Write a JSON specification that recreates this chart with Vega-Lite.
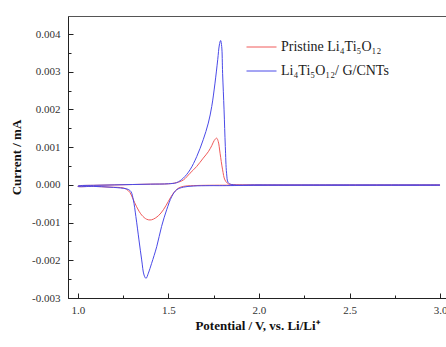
{
  "$schema": "https://vega.github.io/schema/vega-lite/v6.json",
  "width": 378,
  "height": 282,
  "autosize": {"type": "none"},
  "padding": {"left": 68, "top": 16, "right": 0, "bottom": 49},
  "background": "white",
  "config": {
    "view": {"stroke": "#555", "strokeWidth": 1},
    "font": "Liberation Serif",
    "axis": {"grid": false, "domainColor": "#222", "tickColor": "#222", "labelColor": "#333", "labelFont": "Liberation Serif", "labelFontSize": 11, "titleFont": "Liberation Serif", "titleFontSize": 13, "titleFontWeight": "bold", "titleColor": "#111"}
  },
  "data": {"values": [
    {"s": "Pristine Li₄Ti₅O₁₂", "o": 1, "v": 3.0, "i": -0.00001},
    {"s": "Pristine Li₄Ti₅O₁₂", "o": 2, "v": 2.0, "i": -0.00001},
    {"s": "Pristine Li₄Ti₅O₁₂", "o": 3, "v": 1.729, "i": -0.00001},
    {"s": "Pristine Li₄Ti₅O₁₂", "o": 4, "v": 1.637, "i": -0.00002},
    {"s": "Pristine Li₄Ti₅O₁₂", "o": 5, "v": 1.582, "i": -0.00004},
    {"s": "Pristine Li₄Ti₅O₁₂", "o": 6, "v": 1.554, "i": -0.00009},
    {"s": "Pristine Li₄Ti₅O₁₂", "o": 7, "v": 1.527, "i": -0.00022},
    {"s": "Pristine Li₄Ti₅O₁₂", "o": 8, "v": 1.499, "i": -0.00044},
    {"s": "Pristine Li₄Ti₅O₁₂", "o": 9, "v": 1.472, "i": -0.00066},
    {"s": "Pristine Li₄Ti₅O₁₂", "o": 10, "v": 1.444, "i": -0.00082},
    {"s": "Pristine Li₄Ti₅O₁₂", "o": 11, "v": 1.416, "i": -0.00091},
    {"s": "Pristine Li₄Ti₅O₁₂", "o": 12, "v": 1.398, "i": -0.00093},
    {"s": "Pristine Li₄Ti₅O₁₂", "o": 13, "v": 1.379, "i": -0.00091},
    {"s": "Pristine Li₄Ti₅O₁₂", "o": 14, "v": 1.352, "i": -0.0008},
    {"s": "Pristine Li₄Ti₅O₁₂", "o": 15, "v": 1.324, "i": -0.00058},
    {"s": "Pristine Li₄Ti₅O₁₂", "o": 16, "v": 1.302, "i": -0.00035},
    {"s": "Pristine Li₄Ti₅O₁₂", "o": 17, "v": 1.287, "i": -0.0002},
    {"s": "Pristine Li₄Ti₅O₁₂", "o": 18, "v": 1.269, "i": -0.00012},
    {"s": "Pristine Li₄Ti₅O₁₂", "o": 19, "v": 1.25, "i": -0.00008},
    {"s": "Pristine Li₄Ti₅O₁₂", "o": 20, "v": 1.177, "i": -0.00006},
    {"s": "Pristine Li₄Ti₅O₁₂", "o": 21, "v": 1.085, "i": -0.00004},
    {"s": "Pristine Li₄Ti₅O₁₂", "o": 22, "v": 1.0, "i": -0.00004},
    {"s": "Pristine Li₄Ti₅O₁₂", "o": 23, "v": 1.0, "i": -0.00003},
    {"s": "Pristine Li₄Ti₅O₁₂", "o": 24, "v": 1.1, "i": -0.00001},
    {"s": "Pristine Li₄Ti₅O₁₂", "o": 25, "v": 1.2, "i": 0.0},
    {"s": "Pristine Li₄Ti₅O₁₂", "o": 26, "v": 1.3, "i": 0.00001},
    {"s": "Pristine Li₄Ti₅O₁₂", "o": 27, "v": 1.4, "i": 0.00002},
    {"s": "Pristine Li₄Ti₅O₁₂", "o": 28, "v": 1.5, "i": 0.00003},
    {"s": "Pristine Li₄Ti₅O₁₂", "o": 29, "v": 1.545, "i": 0.00006},
    {"s": "Pristine Li₄Ti₅O₁₂", "o": 30, "v": 1.582, "i": 0.00013},
    {"s": "Pristine Li₄Ti₅O₁₂", "o": 31, "v": 1.619, "i": 0.00031},
    {"s": "Pristine Li₄Ti₅O₁₂", "o": 32, "v": 1.656, "i": 0.00049},
    {"s": "Pristine Li₄Ti₅O₁₂", "o": 33, "v": 1.692, "i": 0.00071},
    {"s": "Pristine Li₄Ti₅O₁₂", "o": 34, "v": 1.72, "i": 0.00088},
    {"s": "Pristine Li₄Ti₅O₁₂", "o": 35, "v": 1.739, "i": 0.00104},
    {"s": "Pristine Li₄Ti₅O₁₂", "o": 36, "v": 1.753, "i": 0.00118},
    {"s": "Pristine Li₄Ti₅O₁₂", "o": 37, "v": 1.766, "i": 0.00124},
    {"s": "Pristine Li₄Ti₅O₁₂", "o": 38, "v": 1.775, "i": 0.00115},
    {"s": "Pristine Li₄Ti₅O₁₂", "o": 39, "v": 1.785, "i": 0.00084},
    {"s": "Pristine Li₄Ti₅O₁₂", "o": 40, "v": 1.799, "i": 0.0004},
    {"s": "Pristine Li₄Ti₅O₁₂", "o": 41, "v": 1.812, "i": 0.00013},
    {"s": "Pristine Li₄Ti₅O₁₂", "o": 42, "v": 1.83, "i": 0.00003},
    {"s": "Pristine Li₄Ti₅O₁₂", "o": 43, "v": 1.85, "i": 0.00001},
    {"s": "Pristine Li₄Ti₅O₁₂", "o": 44, "v": 2.0, "i": 0.0},
    {"s": "Pristine Li₄Ti₅O₁₂", "o": 45, "v": 3.0, "i": 0.0},
    {"s": "Li₄Ti₅O₁₂/ G/CNTs", "o": 1, "v": 3.0, "i": -0.00001},
    {"s": "Li₄Ti₅O₁₂/ G/CNTs", "o": 2, "v": 2.5, "i": -0.00001},
    {"s": "Li₄Ti₅O₁₂/ G/CNTs", "o": 3, "v": 2.0, "i": -0.00001},
    {"s": "Li₄Ti₅O₁₂/ G/CNTs", "o": 4, "v": 1.8, "i": -0.00002},
    {"s": "Li₄Ti₅O₁₂/ G/CNTs", "o": 5, "v": 1.729, "i": -0.00002},
    {"s": "Li₄Ti₅O₁₂/ G/CNTs", "o": 6, "v": 1.637, "i": -0.00003},
    {"s": "Li₄Ti₅O₁₂/ G/CNTs", "o": 7, "v": 1.582, "i": -0.00006},
    {"s": "Li₄Ti₅O₁₂/ G/CNTs", "o": 8, "v": 1.545, "i": -0.00013},
    {"s": "Li₄Ti₅O₁₂/ G/CNTs", "o": 9, "v": 1.518, "i": -0.00031},
    {"s": "Li₄Ti₅O₁₂/ G/CNTs", "o": 10, "v": 1.49, "i": -0.00066},
    {"s": "Li₄Ti₅O₁₂/ G/CNTs", "o": 11, "v": 1.462, "i": -0.0011},
    {"s": "Li₄Ti₅O₁₂/ G/CNTs", "o": 12, "v": 1.435, "i": -0.00164},
    {"s": "Li₄Ti₅O₁₂/ G/CNTs", "o": 13, "v": 1.407, "i": -0.00208},
    {"s": "Li₄Ti₅O₁₂/ G/CNTs", "o": 14, "v": 1.389, "i": -0.00234},
    {"s": "Li₄Ti₅O₁₂/ G/CNTs", "o": 15, "v": 1.376, "i": -0.00248},
    {"s": "Li₄Ti₅O₁₂/ G/CNTs", "o": 16, "v": 1.365, "i": -0.00239},
    {"s": "Li₄Ti₅O₁₂/ G/CNTs", "o": 17, "v": 1.352, "i": -0.00199},
    {"s": "Li₄Ti₅O₁₂/ G/CNTs", "o": 18, "v": 1.337, "i": -0.00146},
    {"s": "Li₄Ti₅O₁₂/ G/CNTs", "o": 19, "v": 1.32, "i": -0.00084},
    {"s": "Li₄Ti₅O₁₂/ G/CNTs", "o": 20, "v": 1.306, "i": -0.0004},
    {"s": "Li₄Ti₅O₁₂/ G/CNTs", "o": 21, "v": 1.293, "i": -0.00018},
    {"s": "Li₄Ti₅O₁₂/ G/CNTs", "o": 22, "v": 1.278, "i": -0.00012},
    {"s": "Li₄Ti₅O₁₂/ G/CNTs", "o": 23, "v": 1.25, "i": -0.00009},
    {"s": "Li₄Ti₅O₁₂/ G/CNTs", "o": 24, "v": 1.177, "i": -0.00006},
    {"s": "Li₄Ti₅O₁₂/ G/CNTs", "o": 25, "v": 1.085, "i": -0.00004},
    {"s": "Li₄Ti₅O₁₂/ G/CNTs", "o": 26, "v": 1.0, "i": -0.00004},
    {"s": "Li₄Ti₅O₁₂/ G/CNTs", "o": 27, "v": 1.0, "i": -0.00003},
    {"s": "Li₄Ti₅O₁₂/ G/CNTs", "o": 28, "v": 1.1, "i": -0.00001},
    {"s": "Li₄Ti₅O₁₂/ G/CNTs", "o": 29, "v": 1.2, "i": 0.0},
    {"s": "Li₄Ti₅O₁₂/ G/CNTs", "o": 30, "v": 1.3, "i": 0.00001},
    {"s": "Li₄Ti₅O₁₂/ G/CNTs", "o": 31, "v": 1.4, "i": 0.00002},
    {"s": "Li₄Ti₅O₁₂/ G/CNTs", "o": 32, "v": 1.5, "i": 0.00003},
    {"s": "Li₄Ti₅O₁₂/ G/CNTs", "o": 33, "v": 1.545, "i": 0.00006},
    {"s": "Li₄Ti₅O₁₂/ G/CNTs", "o": 34, "v": 1.582, "i": 0.00018},
    {"s": "Li₄Ti₅O₁₂/ G/CNTs", "o": 35, "v": 1.619, "i": 0.0004},
    {"s": "Li₄Ti₅O₁₂/ G/CNTs", "o": 36, "v": 1.656, "i": 0.00075},
    {"s": "Li₄Ti₅O₁₂/ G/CNTs", "o": 37, "v": 1.692, "i": 0.0012},
    {"s": "Li₄Ti₅O₁₂/ G/CNTs", "o": 38, "v": 1.72, "i": 0.00164},
    {"s": "Li₄Ti₅O₁₂/ G/CNTs", "o": 39, "v": 1.739, "i": 0.00208},
    {"s": "Li₄Ti₅O₁₂/ G/CNTs", "o": 40, "v": 1.757, "i": 0.0027},
    {"s": "Li₄Ti₅O₁₂/ G/CNTs", "o": 41, "v": 1.772, "i": 0.00332},
    {"s": "Li₄Ti₅O₁₂/ G/CNTs", "o": 42, "v": 1.781, "i": 0.00371},
    {"s": "Li₄Ti₅O₁₂/ G/CNTs", "o": 43, "v": 1.788, "i": 0.00383},
    {"s": "Li₄Ti₅O₁₂/ G/CNTs", "o": 44, "v": 1.794, "i": 0.00367},
    {"s": "Li₄Ti₅O₁₂/ G/CNTs", "o": 45, "v": 1.799, "i": 0.00296},
    {"s": "Li₄Ti₅O₁₂/ G/CNTs", "o": 46, "v": 1.807, "i": 0.00199},
    {"s": "Li₄Ti₅O₁₂/ G/CNTs", "o": 47, "v": 1.814, "i": 0.00102},
    {"s": "Li₄Ti₅O₁₂/ G/CNTs", "o": 48, "v": 1.821, "i": 0.00031},
    {"s": "Li₄Ti₅O₁₂/ G/CNTs", "o": 49, "v": 1.83, "i": 0.00006},
    {"s": "Li₄Ti₅O₁₂/ G/CNTs", "o": 50, "v": 1.849, "i": 0.00001},
    {"s": "Li₄Ti₅O₁₂/ G/CNTs", "o": 51, "v": 2.0, "i": 0.0},
    {"s": "Li₄Ti₅O₁₂/ G/CNTs", "o": 52, "v": 2.5, "i": 0.0},
    {"s": "Li₄Ti₅O₁₂/ G/CNTs", "o": 53, "v": 3.0, "i": 0.0}
  ]},
  "mark": {"type": "line", "strokeWidth": 1, "interpolate": "catmull-rom", "clip": true},
  "encoding": {
    "x": {
      "field": "v", "type": "quantitative",
      "scale": {"domain": [0.945, 3.033], "nice": false, "zero": false},
      "axis": {
        "title": "Potential / V, vs. Li/Li⁺",
        "values": [1, 1.25, 1.5, 1.75, 2, 2.25, 2.5, 2.75, 3],
        "labelExpr": "abs(datum.value*2-round(datum.value*2))<0.01 ? format(datum.value,'.1f') : ''",
        "tickSize": {"condition": {"test": "abs(datum.value*2-round(datum.value*2))<0.01", "value": -5}, "value": -3},
        "labelFont": "Liberation Serif",
        "labelFontSize": 11,
        "labelPadding": 11,
        "titlePadding": 4,
        "labelFlush": false
      }
    },
    "y": {
      "field": "i", "type": "quantitative",
      "scale": {"domain": [-0.003, 0.00448], "nice": false, "zero": false},
      "axis": {
        "title": "Current / mA",
        "values": [-0.003, -0.0025, -0.002, -0.0015, -0.001, -0.0005, 0, 0.0005, 0.001, 0.0015, 0.002, 0.0025, 0.003, 0.0035, 0.004],
        "labelExpr": "abs(datum.value*1000-round(datum.value*1000))<0.01 ? replace(format(datum.value,'.3f'),'−','-') : ''",
        "tickSize": {"condition": {"test": "abs(datum.value*1000-round(datum.value*1000))<0.01", "value": -5}, "value": -3},
        "labelFont": "Liberation Serif",
        "labelFontSize": 11,
        "labelPadding": 13,
        "titlePadding": 8,
        "labelFlush": false
      }
    },
    "color": {
      "field": "s", "type": "nominal",
      "scale": {"domain": ["Pristine Li₄Ti₅O₁₂", "Li₄Ti₅O₁₂/ G/CNTs"], "range": ["#f05a5a", "#4a4ae8"]},
      "legend": {
        "title": null, "orient": "none", "legendX": 178, "legendY": 19,
        "symbolType": "stroke", "symbolSize": 900, "symbolStrokeWidth": 1,
        "clipHeight": 24, "rowPadding": 0, "padding": 0,
        "labelFont": "Liberation Serif", "labelFontSize": 14, "labelColor": "#222", "labelOffset": 4, "labelLimit": 300
      }
    },
    "order": {"field": "o", "type": "quantitative"}
  }
}
